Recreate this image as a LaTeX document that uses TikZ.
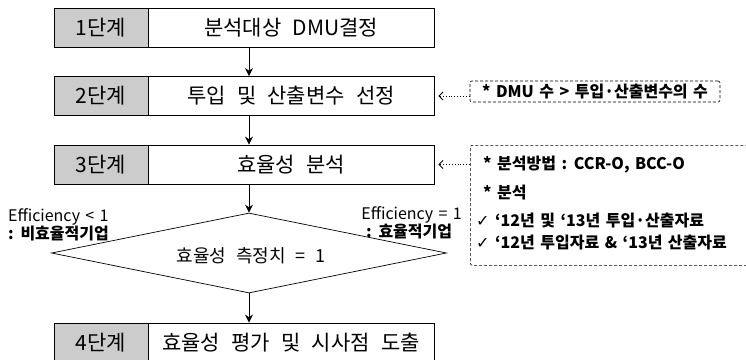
\documentclass[tikz,border=0pt]{standalone}
\usepackage{fontspec}
\setmainfont{Noto Sans CJK KR}[WordSpace=2.4]
\newfontfamily\notefont{Noto Sans CJK KR}[WordSpace=1.5]
\newfontfamily\symfont{DejaVu Sans}
\usetikzlibrary{shapes.geometric,arrows.meta}

\begin{document}
\begin{tikzpicture}[x=1pt,y=-1pt,
    stage/.style={draw,line width=0.8pt,fill=black!20,minimum width=94pt,minimum height=39pt,inner sep=0pt,font=\fontsize{21}{24}\selectfont},
    body/.style={draw,line width=0.8pt,fill=white,minimum width=286pt,minimum height=39pt,inner sep=0pt,font=\fontsize{21}{24}\selectfont},
    note/.style={draw,line width=0.6pt,dash pattern=on 3pt off 2pt,rounded corners=2pt,inner sep=0pt},
    small/.style={font=\notefont\fontsize{16}{18}\selectfont\bfseries,inner sep=0pt},
    flow/.style={-{Stealth[length=8pt,width=8pt]},line width=1pt},
    hint/.style={-{Straight Barb[length=4pt,width=8pt]},line width=0.9pt,dotted,shorten >=4pt}]
  \useasboundingbox (0,0) rectangle (746,359);
  \clip (0,0) rectangle (746,359);
  \node (s1) at (101,27.5) [stage] {1단계};
  \node (b1) at (291,27.5) [body] {분석대상 DMU결정};
  \node (s2) at (101,96) [stage] {2단계};
  \node (b2) at (291,96) [body] {투입 및 산출변수 선정};
  \node (s3) at (101,164.5) [stage] {3단계};
  \node (b3) at (291,164.5) [body] {효율성 분석};
  \node (s4) at (101,342.5) [stage] {4단계};
  \node (b4) at (291,342.5) [body] {효율성 평가 및 시사점 도출};
  \node (d) at (249,253) [draw,line width=0.7pt,diamond,aspect=5,minimum width=395pt,minimum height=80pt,inner sep=0pt] {};
  \node (dt) at (251,256) [font=\fontsize{18}{21}\selectfont] {효율성 측정치 = 1};
  \draw[flow] (b1.south -| d) to (b2.north -| d);
  \draw[flow] (b2.south -| d) to (b3.north -| d);
  \draw[flow] (b3.south -| d) to (d.north);
  \draw[flow] (d.south) to (b4.north -| d);
  % notes on the right
  \node (n1) at (595,91.5) [note,minimum width=250pt,minimum height=21pt] {};
  \node (m1) at (n1) [small] {* DMU 수 > 투입·산출변수의 수};
  \node (n2) at (470,145) [note,anchor=north west,minimum width=300pt,minimum height=120pt] {};
  \node (m2) at (483,165) [small,anchor=west] {* 분석방법 : CCR-O, BCC-O};
  \node (m3) at (483,193) [small,anchor=west] {* 분석};
  \node (m4) at (476,221) [small,anchor=west] {{\symfont ✓} ‘12년 및 ‘13년 투입·산출자료};
  \node (m5) at (476,243) [small,anchor=west] {{\symfont ✓} ‘12년 투입자료 \& ‘13년 산출자료};
  \draw[hint] (n1.west |- b2) to (b2.east);
  \draw[hint] (n2.west |- b3) to (b3.east);
  % decision labels
  \node (e1) at (8,217) [small,anchor=west,font=\notefont\fontsize{16}{18}\selectfont] {Efficiency < 1};
  \node (f1) at (8,234) [small,anchor=west] {: 비효율적기업};
  \node (e2) at (462,215) [small,anchor=east,font=\notefont\fontsize{16}{18}\selectfont] {Efficiency = 1};
  \node (f2) at (366,232) [small,anchor=west] {: 효율적기업};
\end{tikzpicture}
\end{document}
